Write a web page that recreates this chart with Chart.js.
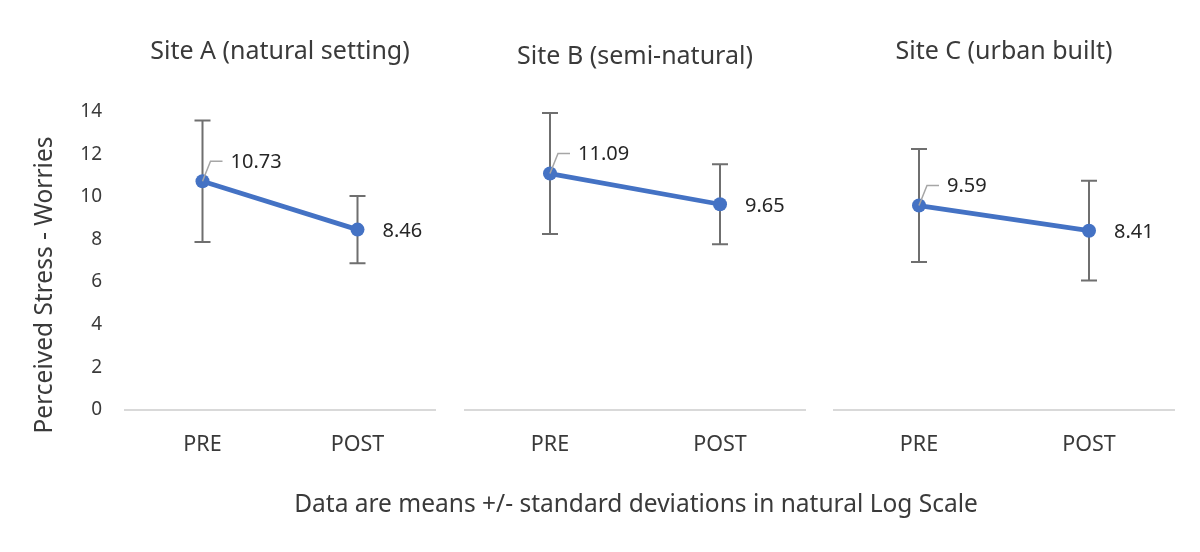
<!DOCTYPE html>
<html>
<head>
<meta charset="utf-8">
<script src="https://cdn.jsdelivr.net/npm/chart.js@4.4.0/dist/chart.umd.min.js"></script>
<style>
  body { margin: 0; background: #fff; }
  #wrap { position: relative; width: 1200px; height: 552px; }
  #wrap canvas { position: absolute; left: 0; top: 0; }
</style>
</head>
<body>
<div id="wrap">
  <canvas id="siteA" width="1200" height="552"></canvas>
  <canvas id="siteB" width="1200" height="552"></canvas>
  <canvas id="siteC" width="1200" height="552"></canvas>
</div>
<script>
const categories = ["PRE", "POST"];
const siteTitles = ["Site A (natural setting)", "Site B (semi-natural)", "Site C (urban built)"];
const siteAMeans = [10.73, 8.46];
const siteASd = [2.85, 1.58];
const siteBMeans = [11.09, 9.65];
const siteBSd = [2.84, 1.88];
const siteCMeans = [9.59, 8.41];
const siteCSd = [2.65, 2.34];
const yMin = 0;
const yMax = 14;
const yStep = 2;
const yAxisTitle = "Perceived Stress - Worries";
const footNote = "Data are means +/- standard deviations in natural Log Scale";

const FONT = "'Noto Sans', 'Open Sans', sans-serif";
const BLUE = "#4472C4";
const TEXT = "#3a3a3a";

// error bars behind the line, labels + leader lines on top
const errorBarsAndLabels = {
  id: "errorBarsAndLabels",
  beforeDatasetsDraw(chart, args, opts) {
    const ctx = chart.ctx;
    const y = chart.scales.y;
    const means = chart.data.datasets[0].data;
    ctx.save();
    ctx.strokeStyle = "#6f6f6f";
    ctx.lineWidth = 2;
    chart.getDatasetMeta(0).data.forEach((pt, i) => {
      const top = y.getPixelForValue(means[i] + opts.sd[i]);
      const bot = y.getPixelForValue(means[i] - opts.sd[i]);
      ctx.beginPath();
      ctx.moveTo(pt.x, top);
      ctx.lineTo(pt.x, bot);
      ctx.moveTo(pt.x - 8, top);
      ctx.lineTo(pt.x + 8, top);
      ctx.moveTo(pt.x - 8, bot);
      ctx.lineTo(pt.x + 8, bot);
      ctx.stroke();
    });
    ctx.restore();
  },
  afterDatasetsDraw(chart, args, opts) {
    const ctx = chart.ctx;
    const means = chart.data.datasets[0].data;
    const pts = chart.getDatasetMeta(0).data;
    ctx.save();
    ctx.font = "20px " + FONT;
    ctx.fillStyle = "#262626";
    ctx.textBaseline = "middle";
    ctx.textAlign = "left";

    // PRE label sits up-right with a leader line
    const p0 = pts[0];
    ctx.strokeStyle = "#a6a6a6";
    ctx.lineWidth = 1.5;
    ctx.beginPath();
    ctx.moveTo(p0.x, p0.y);
    ctx.lineTo(p0.x + 8, p0.y - 20);
    ctx.lineTo(p0.x + 20, p0.y - 20);
    ctx.stroke();
    ctx.fillText(means[0].toFixed(2), p0.x + 28, p0.y - 19);

    // POST label to the right
    const p1 = pts[1];
    ctx.fillText(means[1].toFixed(2), p1.x + 25, p1.y + 2);

    ctx.font = "24.5px " + FONT;
    ctx.fillStyle = TEXT;
    ctx.textAlign = "center";
    if (opts.footNote) {
      ctx.fillText(opts.footNote, 636, 505);
    }
    if (opts.yTitle) {
      ctx.translate(45, 285);
      ctx.rotate(-Math.PI / 2);
      ctx.fillText(opts.yTitle, 0, 0);
    }
    ctx.restore();
  }
};

function makeChart(id, title, means, sd, left, right, titleTop, showY, note) {
  const ctx = document.getElementById(id).getContext("2d");
  return new Chart(ctx, {
    type: "line",
    data: {
      labels: categories,
      datasets: [
        {
          data: means,
          borderColor: BLUE,
          backgroundColor: BLUE,
          borderWidth: 4.8,
          pointRadius: 7,
          pointHoverRadius: 7,
          pointBackgroundColor: BLUE,
          pointBorderWidth: 0,
          fill: false,
          tension: 0,
        },
      ],
    },
    plugins: [errorBarsAndLabels],
    options: {
      responsive: false,
      animation: false,
      layout: { padding: { left: left, right: right, top: 0, bottom: 0 } },
      plugins: {
        legend: { display: false },
        tooltip: { enabled: false },
        title: {
          display: true,
          fullSize: false,
          text: title,
          color: TEXT,
          font: { family: FONT, size: 25, weight: "normal" },
          padding: { top: titleTop, bottom: 111.5 - titleTop - 30 },
        },
        errorBarsAndLabels: {
          sd: sd,
          yTitle: showY ? yAxisTitle : null,
          footNote: note,
        },
      },
      scales: {
        x: {
          offset: true,
          grid: { display: false, drawTicks: false },
          border: { display: true, color: "#d9d9d9", width: 2 },
          ticks: {
            color: TEXT,
            padding: 22,
            font: { family: FONT, size: 21.5 },
          },
          afterFit(scale) {
            scale.height = 142;
          },
        },
        y: {
          display: showY,
          min: yMin,
          max: yMax,
          grid: { display: false, drawTicks: false },
          border: { display: false },
          ticks: {
            stepSize: yStep,
            color: TEXT,
            padding: 23,
            font: { family: FONT, size: 19 },
          },
          afterFit(scale) {
            scale.width = showY ? 125 : 0;
          },
        },
      },
    },
  });
}

makeChart("siteA", siteTitles[0], siteAMeans, siteASd, 0, 765, 37, true, null);
makeChart("siteB", siteTitles[1], siteBMeans, siteBSd, 465, 395, 42, false, footNote);
makeChart("siteC", siteTitles[2], siteCMeans, siteCSd, 834, 26, 37, false, null);
</script>
</body>
</html>
